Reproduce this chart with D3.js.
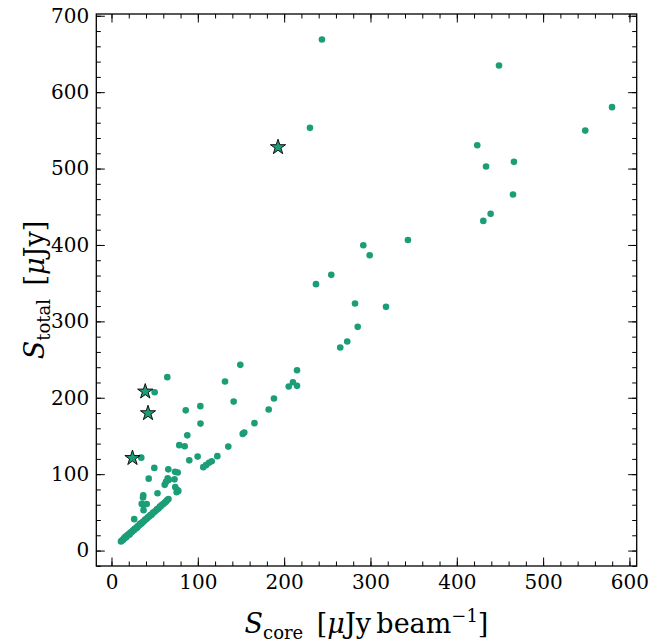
<!DOCTYPE html>
<html>
<head>
<meta charset="utf-8">
<script src="https://cdn.jsdelivr.net/npm/d3@7"></script>
<style>
  html, body { margin: 0; padding: 0; background: #fff; }
  svg { display: block; }
</style>
</head>
<body>
<svg id="chart" width="662" height="642"></svg>
<script>
// Core flux density (x) and total flux density (y), in µJy
const coreFlux = [
  243.8, 448.9, 579.8, 548.8, 229.9, 423.7, 466.2, 433.9, 465.1, 439.2,
  430.7, 343.4, 291.7, 299.1, 254.6, 236.9, 282.1, 318.0, 285.2, 273.1,
  265.0, 149.2, 131.5, 214.9, 210.2, 205.3, 214.9, 188.2, 141.5, 102.9,
  182.1, 86.0, 64.6, 50.0, 103.1, 165.6, 87.8, 152.0, 153.8, 78.5,
  84.8, 135.3, 90.1, 99.8, 122.6, 116.1, 112.9, 109.5, 106.3, 34.5,
  49.6, 65.8, 73.6, 76.7, 43.1, 65.1, 66.3, 63.1, 61.6, 73.0,
  73.8, 75.9, 77.4, 75.5, 53.3, 36.8, 36.5, 35.0, 40.8, 37.1,
  37.1, 26.3,
  11, 12.5, 13.5, 14.5, 15.5, 16, 17, 18, 19, 20,
  21, 22, 23, 24, 25, 26, 27, 28, 29.5, 30,
  31, 32.5, 33, 34.5, 35, 36.5, 38, 39, 40, 41.5,
  42.5, 44, 45, 46.5, 48, 49, 50.5, 52, 53, 54.5,
  56, 57, 58.5, 60, 61.5, 63, 64.5, 66
];
const totalFlux = [
  669.0, 634.8, 580.4, 549.7, 553.3, 530.6, 508.8, 502.6, 466.0, 440.7,
  431.5, 406.4, 399.7, 386.6, 360.9, 348.7, 323.3, 319.0, 292.8, 273.6,
  265.7, 243.1, 221.2, 236.1, 220.4, 214.7, 215.6, 199.0, 195.0, 189.0,
  184.6, 183.5, 227.0, 207.3, 166.2, 166.8, 150.8, 152.7, 154.5, 138.0,
  136.6, 136.1, 118.1, 123.0, 123.6, 117.0, 114.8, 111.8, 109.2, 121.6,
  108.2, 106.3, 103.0, 102.1, 94.1, 94.5, 92.5, 89.9, 86.0, 93.2,
  83.1, 79.5, 78.1, 76.4, 75.1, 72.3, 69.6, 61.1, 60.9, 59.6,
  52.9, 41.1,
  12, 13.5, 14, 16, 16.5, 18, 17.5, 19.5, 20, 21.5,
  21, 23.5, 24, 25, 26.5, 26.5, 28.5, 29, 30, 31.5,
  32, 33.5, 35, 35, 36.5, 37.5, 39, 40.5, 41, 42.5,
  44, 45, 46.5, 47, 49.5, 50, 51.5, 53, 54.5, 55,
  57.5, 58, 60, 61, 62.5, 64, 66, 67.5
];
// Highlighted sources drawn as stars
const starCore  = [39.1, 42.3, 24.3, 192.9];
const starTotal = [208.1, 179.8, 121.1, 528.0];

const xMajor = [0, 100, 200, 300, 400, 500, 600];
const yMajor = [0, 100, 200, 300, 400, 500, 600, 700];
const xMinor = d3.range(0, 620, 20);
const yMinor = d3.range(-20, 720, 20);

const pointColor = "#1b9e77";
const serif = "'DejaVu Serif', serif";

const svg = d3.select("#chart");
const plotLeft = 96.3, plotTop = 14, plotRight = 636.7, plotBottom = 566;

const x = d3.scaleLinear().domain([-17.6, 608.4]).range([plotLeft, plotRight]);
const y = d3.scaleLinear().domain([-20.2, 702.3]).range([plotBottom, plotTop]);

// Points
svg.append("g")
  .selectAll("circle")
  .data(coreFlux.map((c, i) => [c, totalFlux[i]]))
  .join("circle")
  .attr("cx", d => x(d[0]))
  .attr("cy", d => y(d[1]))
  .attr("r", 3.3)
  .attr("fill", pointColor);

svg.append("g")
  .selectAll("path")
  .data(starCore.map((c, i) => [c, starTotal[i]]))
  .join("path")
  .attr("transform", d => `translate(${x(d[0])},${y(d[1])})`)
  .attr("d", d3.symbol(d3.symbolStar, 72))
  .attr("fill", pointColor)
  .attr("stroke", "#000")
  .attr("stroke-width", 0.9);

// Axes with inward ticks on all four sides
function styleAxis(g) {
  g.attr("font-family", serif).attr("font-size", 20);
  g.select(".domain").remove();
  g.selectAll(".tick line").attr("stroke", "#000").attr("stroke-width", 1);
  g.selectAll(".tick text").attr("fill", "#000");
}

svg.append("g").attr("transform", `translate(0,${plotBottom})`)
  .call(d3.axisBottom(x).tickValues(xMinor).tickSize(-4.5).tickFormat(""))
  .call(styleAxis);
svg.append("g").attr("transform", `translate(0,${plotBottom})`)
  .call(d3.axisBottom(x).tickValues(xMajor).tickSize(-8.5).tickPadding(9).tickFormat(d3.format("d")))
  .call(styleAxis);
svg.append("g").attr("transform", `translate(0,${plotTop})`)
  .call(d3.axisTop(x).tickValues(xMinor).tickSize(-4.5).tickFormat(""))
  .call(styleAxis);
svg.append("g").attr("transform", `translate(0,${plotTop})`)
  .call(d3.axisTop(x).tickValues(xMajor).tickSize(-8.5).tickFormat(""))
  .call(styleAxis);

svg.append("g").attr("transform", `translate(${plotLeft},0)`)
  .call(d3.axisLeft(y).tickValues(yMinor).tickSize(-4.5).tickFormat(""))
  .call(styleAxis);
svg.append("g").attr("transform", `translate(${plotLeft},0)`)
  .call(d3.axisLeft(y).tickValues(yMajor).tickSize(-8.5).tickPadding(7).tickFormat(d3.format("d")))
  .call(styleAxis);
svg.append("g").attr("transform", `translate(${plotRight},0)`)
  .call(d3.axisRight(y).tickValues(yMinor).tickSize(-4.5).tickFormat(""))
  .call(styleAxis);
svg.append("g").attr("transform", `translate(${plotRight},0)`)
  .call(d3.axisRight(y).tickValues(yMajor).tickSize(-8.5).tickFormat(""))
  .call(styleAxis);

// Frame
svg.append("rect")
  .attr("x", plotLeft).attr("y", plotTop)
  .attr("width", plotRight - plotLeft).attr("height", plotBottom - plotTop)
  .attr("fill", "none").attr("stroke", "#000").attr("stroke-width", 1.3);

// Axis titles
const xt = svg.append("text")
  .attr("font-family", serif).attr("fill", "#000")
  .attr("x", (plotLeft + plotRight) / 2).attr("y", 633)
  .attr("text-anchor", "middle").attr("font-size", 27);
xt.append("tspan").attr("font-style", "italic").text("S");
xt.append("tspan").attr("dy", 6).attr("font-size", 18).text("core");
xt.append("tspan").attr("dy", -6).text("\u2002[");
xt.append("tspan").attr("font-style", "italic").text("\u03bc");
xt.append("tspan").text("Jy\u2009beam");
xt.append("tspan").attr("dy", -11).attr("font-size", 18).text("\u22121");
xt.append("tspan").attr("dy", 11).text("]");

const yt = svg.append("text")
  .attr("font-family", serif).attr("fill", "#000")
  .attr("transform", `translate(44,${(plotTop + plotBottom) / 2}) rotate(-90)`)
  .attr("text-anchor", "middle").attr("font-size", 27);
yt.append("tspan").attr("font-style", "italic").text("S");
yt.append("tspan").attr("dy", 6).attr("font-size", 18).text("total");
yt.append("tspan").attr("dy", -6).text("\u2002[");
yt.append("tspan").attr("font-style", "italic").text("\u03bc");
yt.append("tspan").text("Jy]");
</script>
</body>
</html>
